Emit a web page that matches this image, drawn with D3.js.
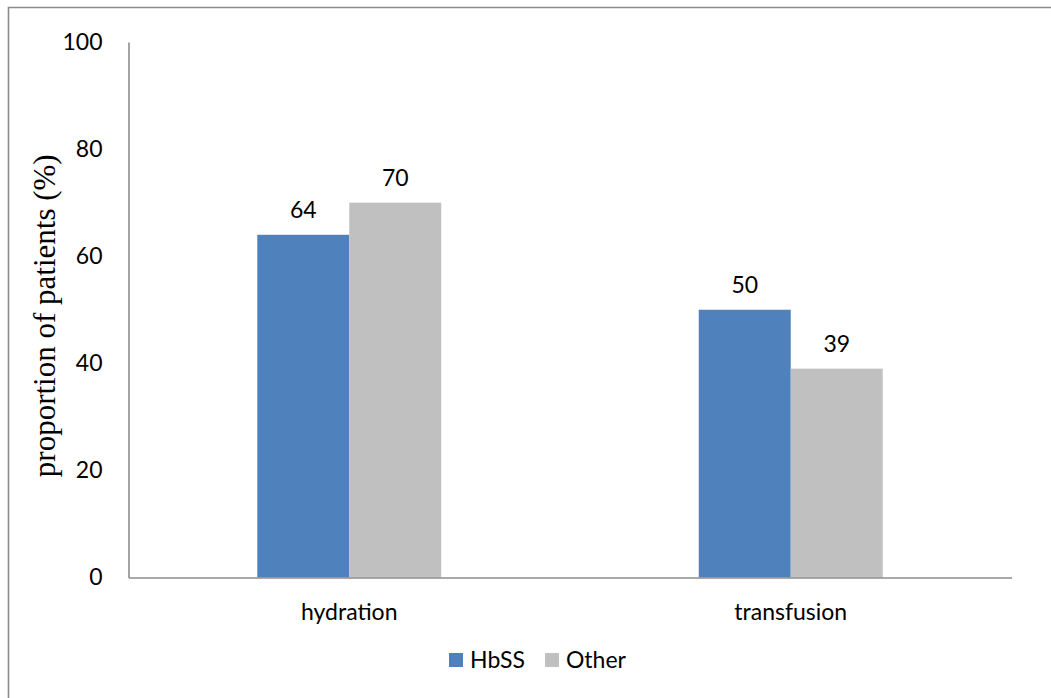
<!DOCTYPE html>
<html>
<head>
<meta charset="utf-8">
<script src="https://cdn.jsdelivr.net/npm/d3@7"></script>
<style>
  html, body { margin: 0; padding: 0; background: #fff; }
  svg { display: block; }
</style>
</head>
<body>
<svg id="chart" width="1051" height="698"></svg>
<script>
// Treatment categories and the share of patients per genotype group
const categories = ["hydration", "transfusion"];
const seriesNames = ["HbSS", "Other"];
const hbssValues = [64, 50];
const otherValues = [70, 39];
const yTicks = [0, 20, 40, 60, 80, 100];
const colors = ["#4F81BD", "#C0C0C0"];

const rows = categories.map((c, i) => ({
  category: c,
  values: [
    { name: seriesNames[0], value: hbssValues[i] },
    { name: seriesNames[1], value: otherValues[i] }
  ]
}));

const svg = d3.select("#chart");
const W = 1051, H = 698;
const plot = { left: 128.5, right: 1011.5, top: 42, bottom: 577.5 };
const labelFont = "Lato, 'Open Sans', sans-serif";

// Outer frame (runs off the right and bottom edges)
svg.append("path")
  .attr("d", `M8.5,${H + 5} L8.5,7.5 L${W + 5},7.5`)
  .attr("fill", "none")
  .attr("stroke", "#8c8c8c")
  .attr("stroke-width", 1.6);

const x0 = d3.scaleBand()
  .domain(categories)
  .range([plot.left, plot.right])
  .paddingInner(0.5833)
  .paddingOuter(0.2917);

const x1 = d3.scaleBand()
  .domain(seriesNames)
  .range([0, x0.bandwidth()])
  .padding(0);

const y = d3.scaleLinear()
  .domain([0, 100])
  .range([plot.bottom, plot.top]);

const color = d3.scaleOrdinal().domain(seriesNames).range(colors);

// Bars
const groups = svg.append("g")
  .selectAll("g")
  .data(rows)
  .join("g")
  .attr("transform", d => `translate(${x0(d.category)},0)`);

groups.selectAll("rect")
  .data(d => d.values)
  .join("rect")
  .attr("x", d => x1(d.name))
  .attr("y", d => y(d.value))
  .attr("width", x1.bandwidth())
  .attr("height", d => y(0) - y(d.value))
  .attr("fill", d => color(d.name));

// Value labels above bars
groups.selectAll("text")
  .data(d => d.values)
  .join("text")
  .attr("x", d => x1(d.name) + x1.bandwidth() / 2)
  .attr("y", d => y(d.value) - 17)
  .attr("text-anchor", "middle")
  .attr("font-family", labelFont)
  .attr("font-size", 23)
  .attr("fill", "#000")
  .text(d => d.value);

// Y axis
const yAxis = svg.append("g")
  .attr("transform", `translate(${plot.left},0)`)
  .call(d3.axisLeft(y).tickValues(yTicks).tickSize(0).tickPadding(26));
yAxis.select(".domain").attr("stroke", "#8c8c8c").attr("stroke-width", 1.6);
yAxis.selectAll("text")
  .attr("font-family", labelFont)
  .attr("font-size", 23)
  .attr("fill", "#000");

// X axis
const xAxis = svg.append("g")
  .attr("transform", `translate(0,${plot.bottom})`)
  .call(d3.axisBottom(x0).tickSize(0).tickPadding(26).tickSizeOuter(0));
xAxis.select(".domain").attr("stroke", "#8c8c8c").attr("stroke-width", 1.6);
xAxis.selectAll("text")
  .attr("font-family", labelFont)
  .attr("font-size", 23)
  .attr("fill", "#000");

// Y axis title
svg.append("text")
  .attr("transform", `translate(48,${(plot.top + plot.bottom) / 2 + 6}) rotate(-90)`)
  .attr("text-anchor", "middle")
  .attr("dominant-baseline", "middle")
  .attr("font-family", "'Liberation Serif', 'Times New Roman', serif")
  .attr("font-size", 31)
  .attr("fill", "#000")
  .text("proportion of patients (%)");

// Legend
const legendItems = [
  { name: seriesNames[0], x: 449 },
  { name: seriesNames[1], x: 545 }
];
const legend = svg.append("g");
const li = legend.selectAll("g")
  .data(legendItems)
  .join("g")
  .attr("transform", d => `translate(${d.x},653)`);
li.append("rect")
  .attr("width", 14)
  .attr("height", 14)
  .attr("fill", d => color(d.name));
li.append("text")
  .attr("x", 21)
  .attr("y", 14.5)
  .attr("font-family", labelFont)
  .attr("font-size", 23)
  .attr("fill", "#000")
  .text(d => d.name);
</script>
</body>
</html>
